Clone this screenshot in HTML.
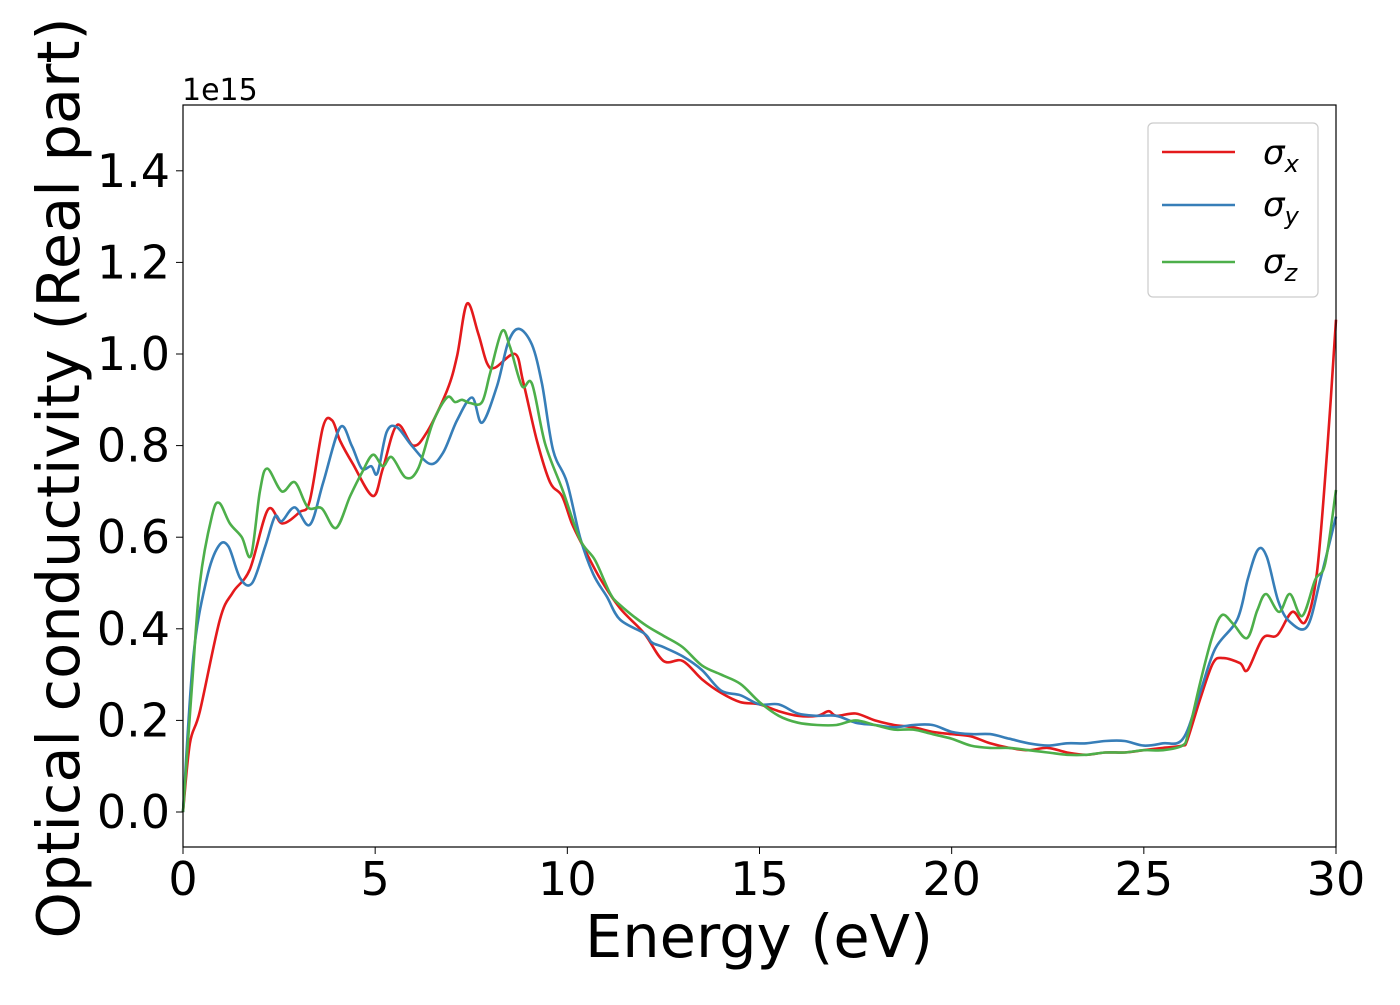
<!DOCTYPE html>
<html><head><meta charset="utf-8"><style>
body{margin:0;background:#fff;}
svg text{font-family:"DejaVu Sans","Liberation Sans",sans-serif;fill:#000;}
</style></head><body>
<svg id="chart" width="1400" height="1000" viewBox="0 0 1400 1000" xmlns="http://www.w3.org/2000/svg">
<rect x="0" y="0" width="1400" height="1000" fill="#fff"/>
<g id="series"></g>
<rect x="183" y="105" width="1153" height="742" fill="none" stroke="#000" stroke-width="1.2"/>
<g id="xticks"></g>
<g id="yticks"></g>
<text x="182" y="100" font-size="30">1e15</text>
<text x="759" y="957" font-size="59" text-anchor="middle">Energy (eV)</text>
<text transform="translate(79,478) rotate(-90)" font-size="59" text-anchor="middle">Optical conductivity (Real part)</text>
<g>
<rect x="1148" y="123" width="170" height="174" rx="5" fill="#fff" stroke="#ccc" stroke-width="1.2"/>
<line x1="1162" y1="152" x2="1235" y2="152" stroke="#e41a1c" stroke-width="2.6"/>
<line x1="1162" y1="205" x2="1235" y2="205" stroke="#377eb8" stroke-width="2.6"/>
<line x1="1162" y1="262" x2="1235" y2="262" stroke="#4daf4a" stroke-width="2.6"/>
<text x="1263" y="164" font-size="34" font-style="italic">σ<tspan font-size="24" dy="8">x</tspan></text>
<text x="1263" y="216" font-size="34" font-style="italic">σ<tspan font-size="24" dy="8">y</tspan></text>
<text x="1263" y="273" font-size="34" font-style="italic">σ<tspan font-size="24" dy="8">z</tspan></text>
</g>
</svg>
<script>
const xTicks=[0,5,10,15,20,25,30];
const yTicks=[0.0,0.2,0.4,0.6,0.8,1.0,1.2,1.4];
const xE=[0,0.18,0.44,0.96,1.3,1.74,2.21,2.58,3.04,3.3,3.64,3.88,4.09,4.42,4.94,5.2,5.57,5.99,6.35,6.87,7.13,7.39,7.68,7.91,8.12,8.64,8.85,9.21,9.55,9.86,10.12,10.41,10.85,11.37,12,12.5,13,13.5,14,14.5,15,15.5,16,16.5,16.8,17,17.5,18,18.5,19,19.5,20,20.5,21,21.5,22,22.5,23,23.5,24,24.5,25,25.5,26,26.13,26.46,26.8,27.07,27.5,27.7,28.1,28.47,28.86,29.2,29.5,29.77,30];
const sigX=[0,0.15,0.22,0.42,0.48,0.53,0.66,0.63,0.655,0.68,0.84,0.855,0.81,0.76,0.69,0.75,0.845,0.8,0.83,0.92,0.995,1.11,1.045,0.98,0.97,1.0,0.94,0.81,0.72,0.69,0.63,0.58,0.51,0.445,0.39,0.33,0.33,0.29,0.26,0.24,0.235,0.22,0.21,0.21,0.22,0.21,0.215,0.2,0.19,0.185,0.175,0.17,0.165,0.15,0.14,0.135,0.14,0.13,0.125,0.13,0.13,0.135,0.14,0.145,0.157,0.245,0.325,0.336,0.325,0.31,0.38,0.386,0.437,0.415,0.52,0.79,1.075];
const yE=[0,0.27,0.62,0.92,1.18,1.49,1.8,2.14,2.39,2.57,2.91,3.3,3.65,4.09,4.39,4.65,4.9,5.06,5.3,5.57,5.95,6.43,6.77,7.13,7.52,7.78,8.17,8.46,8.74,9.08,9.34,9.63,9.99,10.33,10.67,11.03,11.37,12,12.2,12.5,13,13.5,14,14.5,15,15.5,16,16.5,17,17.5,18,18.5,19,19.5,20,20.5,21,21.5,22,22.5,23,23.5,24,24.5,25,25.5,26.02,26.46,26.86,27.43,27.71,27.97,28.2,28.5,28.8,29.25,29.6,30];
const sigY=[0,0.34,0.51,0.58,0.58,0.51,0.5,0.58,0.645,0.635,0.665,0.627,0.72,0.84,0.8,0.75,0.755,0.74,0.83,0.84,0.8,0.76,0.785,0.855,0.905,0.85,0.93,1.025,1.055,1.02,0.935,0.79,0.72,0.6,0.52,0.47,0.42,0.39,0.37,0.36,0.34,0.31,0.265,0.255,0.235,0.235,0.215,0.21,0.21,0.195,0.19,0.185,0.19,0.19,0.175,0.17,0.17,0.16,0.15,0.145,0.15,0.15,0.155,0.155,0.145,0.15,0.16,0.26,0.357,0.42,0.51,0.573,0.557,0.46,0.415,0.405,0.51,0.645];
const zE=[0,0.23,0.44,0.75,0.94,1.22,1.53,1.77,2.0,2.19,2.57,2.91,3.25,3.61,3.98,4.35,4.65,4.94,5.2,5.43,5.8,6.12,6.5,6.87,7.08,7.26,7.47,7.78,7.99,8.3,8.51,8.82,9.08,9.42,9.89,10.33,10.72,11.11,11.37,12,12.5,13,13.5,14,14.5,15,15.5,16,16.5,17,17.5,18,18.5,19,19.5,20,20.5,21,21.5,22,22.5,23,23.5,24,24.5,25,25.5,26,26.15,26.46,26.77,27.03,27.33,27.69,27.95,28.18,28.52,28.8,29.12,29.46,29.72,30];
const sigZ=[0,0.27,0.5,0.645,0.675,0.63,0.6,0.56,0.7,0.75,0.7,0.72,0.665,0.663,0.62,0.69,0.74,0.78,0.755,0.775,0.73,0.75,0.85,0.905,0.895,0.9,0.893,0.895,0.958,1.05,1.015,0.93,0.935,0.805,0.7,0.595,0.55,0.478,0.452,0.41,0.385,0.36,0.32,0.3,0.28,0.24,0.21,0.195,0.19,0.19,0.2,0.19,0.18,0.18,0.17,0.16,0.145,0.14,0.14,0.135,0.13,0.125,0.125,0.13,0.13,0.135,0.135,0.145,0.17,0.28,0.38,0.43,0.41,0.38,0.44,0.476,0.437,0.476,0.428,0.507,0.543,0.703];

const NS='http://www.w3.org/2000/svg';
const X0=183,X1=1336,XMIN=0,XMAX=30;
const Y0=812,YPER=458;
function sx(v){return X0+(v-XMIN)/(XMAX-XMIN)*(X1-X0);}
function sy(v){return Y0-v*YPER;}
function pathFrom(xs,ys){
  const p=xs.map((x,i)=>[sx(x),sy(ys[i])]);
  let d='M'+p[0][0].toFixed(1)+','+p[0][1].toFixed(1);
  for(let i=0;i<p.length-1;i++){
    const a=p[Math.max(0,i-1)],b=p[i],c=p[i+1],e=p[Math.min(p.length-1,i+2)];
    const c1=[b[0]+(c[0]-a[0])/6,b[1]+(c[1]-a[1])/6];
    const c2=[c[0]-(e[0]-b[0])/6,c[1]-(e[1]-b[1])/6];
    d+='C'+c1[0].toFixed(1)+','+c1[1].toFixed(1)+' '+c2[0].toFixed(1)+','+c2[1].toFixed(1)+' '+c[0].toFixed(1)+','+c[1].toFixed(1);
  }
  return d;
}
const g=document.getElementById('series');
[[xE,sigX,'#e41a1c','series-sigma-x'],[yE,sigY,'#377eb8','series-sigma-y'],[zE,sigZ,'#4daf4a','series-sigma-z']].forEach(s=>{
  const el=document.createElementNS(NS,'path');
  el.setAttribute('d',pathFrom(s[0],s[1]));
  el.setAttribute('fill','none');el.setAttribute('stroke',s[2]);el.setAttribute('stroke-width','2.6');
  el.setAttribute('stroke-linejoin','round');
  
  
  g.appendChild(el);
});
const xg=document.getElementById('xticks');
xTicks.forEach(t=>{
  const l=document.createElementNS(NS,'line');
  l.setAttribute('x1',sx(t));l.setAttribute('x2',sx(t));l.setAttribute('y1',847);l.setAttribute('y2',854);l.setAttribute('stroke','#000');
  
  
  xg.appendChild(l);
  const tx=document.createElementNS(NS,'text');
  tx.setAttribute('x',sx(t));tx.setAttribute('y',895);tx.setAttribute('font-size','46');tx.setAttribute('text-anchor','middle');
  tx.textContent=t;
  
  
  xg.appendChild(tx);
});
const yg=document.getElementById('yticks');
yTicks.forEach(t=>{
  const l=document.createElementNS(NS,'line');
  l.setAttribute('x1',176);l.setAttribute('x2',183);l.setAttribute('y1',sy(t));l.setAttribute('y2',sy(t));l.setAttribute('stroke','#000');
  
  
  yg.appendChild(l);
  const tx=document.createElementNS(NS,'text');
  tx.setAttribute('x',170);tx.setAttribute('y',sy(t)+16);tx.setAttribute('font-size','46');tx.setAttribute('text-anchor','end');
  tx.textContent=t.toFixed(1);
  
  
  yg.appendChild(tx);
});
</script>
</body></html>
